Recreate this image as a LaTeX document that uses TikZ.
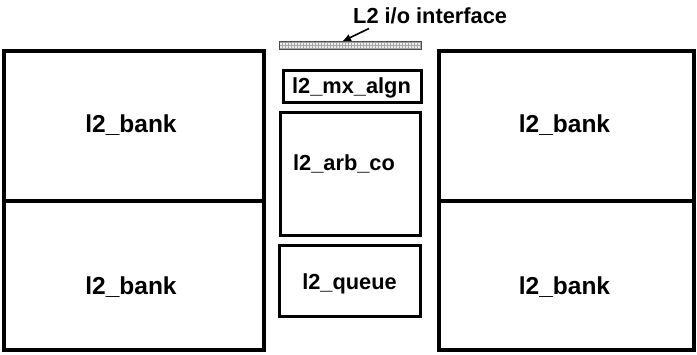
\documentclass[tikz,border=0pt]{standalone}
\usepackage{fontspec}
\setmainfont{Liberation Sans}
\usetikzlibrary{patterns,arrows.meta}
\begin{document}
\begin{tikzpicture}[x=1pt,y=-1pt,
  blk/.style={draw=black,line width=3.3pt,fill=white},
  mid/.style={draw=black,line width=3pt,fill=white},
  bank/.style={font=\bfseries\fontsize{24.5}{28}\selectfont,inner sep=0pt,anchor=base},
  lbl/.style={font=\bfseries\fontsize{21.8}{25}\selectfont,inner sep=0pt,anchor=base}]
\useasboundingbox (0,0) rectangle (697,354);
% banks
\draw[blk] (4,51) rectangle (264,201);
\draw[blk] (4,201) rectangle (264,350);
\draw[blk] (439,51) rectangle (694,201);
\draw[blk] (439,201) rectangle (694,350);
\node[bank] (b1) at (131,132) {l2\_bank};
\node[bank] (b2) at (131,294) {l2\_bank};
\node[bank] (b3) at (564.5,132) {l2\_bank};
\node[bank] (b4) at (564.5,294) {l2\_bank};
% middle
\draw[mid] (283.5,70.5) rectangle (421.5,102);
\node[lbl] (mx) at (351.5,93.3) {l2\_mx\_algn};
\draw[mid] (280,112) rectangle (420,235);
\node[lbl] (arb) at (344,170.7) {l2\_arb\_co};
\draw[mid] (279,245.5) rectangle (420.5,316.5);
\node[lbl] (q) at (349.5,289) {l2\_queue};
% io bar
\draw[line width=0.8pt,draw=black!70,fill=gray!15] (279,41) rectangle (421,49);
\fill[pattern=grid,pattern color=gray!70] (279,41) rectangle (421,49);
\draw[line width=0.8pt,draw=black!70] (279,41) rectangle (421,49);
\coordinate (bar) at (342,41.5);
\node[font=\bfseries\fontsize{21.8}{25}\selectfont,inner sep=0pt,anchor=base west] (io) at (353,23) {L2 i/o interface};
\coordinate (ioa) at (369,28.5);
\draw[line width=1.6pt,-{Latex[length=9pt,width=7.5pt]}] (ioa) -- (bar);
\end{tikzpicture}
\end{document}
